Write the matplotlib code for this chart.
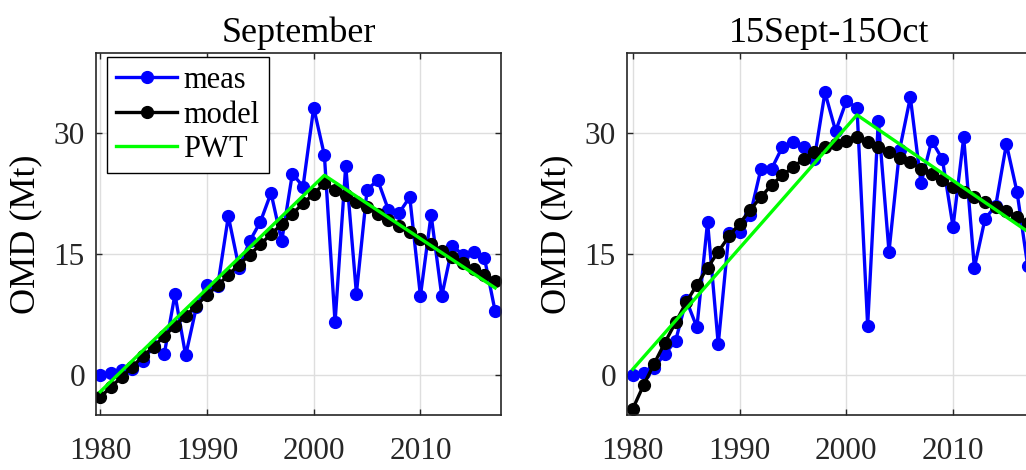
import matplotlib
matplotlib.use("Agg")
import matplotlib.pyplot as plt

plt.rcParams['font.family'] = ['Liberation Serif', 'DejaVu Serif']

years = list(range(1980, 2018))

# September
meas_sep = [0.0, 0.2, 0.6, 0.7, 1.7, 3.6, 2.6, 10.0, 2.4, 8.4, 11.2, 11.0, 19.7, 13.3, 16.6, 19.0,
            22.6, 16.6, 25.0, 23.4, 33.2, 27.3, 6.5, 26.0, 10.1, 23.0, 24.2, 20.5, 20.1, 22.1,
            9.8, 19.9, 9.8, 16.0, 14.9, 15.3, 14.5, 7.9]
model_sep = [-2.8, -1.5, -0.3, 1.0, 2.3, 3.5, 4.8, 6.1, 7.3, 8.6, 9.9, 11.1, 12.4, 13.7, 14.9, 16.2,
             17.5, 18.7, 20.0, 21.3, 22.5, 23.8, 23.0, 22.3, 21.5, 20.8, 20.0, 19.2, 18.5, 17.7,
             16.9, 16.2, 15.4, 14.7, 13.9, 13.1, 12.4, 11.7]

# 15Sept-15Oct
meas_oct = [0.0, 0.2, 0.9, 2.6, 4.2, 9.3, 5.9, 19.0, 3.8, 17.6, 17.8, 19.9, 25.6, 25.6, 28.3, 28.9,
            28.3, 26.8, 35.1, 30.3, 34.0, 33.2, 6.1, 31.6, 15.3, 28.0, 34.5, 23.8, 29.1, 26.8,
            18.4, 29.5, 13.3, 19.4, 21.0, 28.7, 22.7, 13.5]
model_oct = [-4.2, -1.3, 1.4, 4.0, 6.5, 9.0, 11.2, 13.3, 15.3, 17.2, 18.8, 20.5, 22.1, 23.6, 24.8, 25.8,
             26.8, 27.7, 28.3, 28.7, 29.1, 29.5, 28.9, 28.3, 27.7, 27.0, 26.4, 25.6, 25.0, 24.2,
             23.3, 22.7, 22.1, 21.5, 20.9, 20.3, 19.6, 18.9]

# piecewise trend (breakpoint 2001)
pwt_years = [1980, 2001, 2017]
pwt_sep = [-2.1, 24.8, 10.8]
pwt_oct = [0.7, 32.3, 17.8]

fig = plt.figure(figsize=(10.26, 4.70), dpi=100)
ax1 = fig.add_axes([96/1026, 55/470, 405/1026, 362/470])
ax2 = fig.add_axes([627/1026, 55/470, 405/1026, 362/470])

panels = [(ax1, "September", meas_sep, model_sep, pwt_sep, (1979.6, 2017.55)),
          (ax2, "15Sept-15Oct", meas_oct, model_oct, pwt_oct, (1979.45, 2017.4))]

for ax, title, meas, model, pwt, xl in panels:
    ax.plot(years, meas, "-o", color=(0, 0, 1), lw=2.4, markersize=8.5, label="meas")
    ax.plot(years, model, "-o", color="black", lw=2.4, markersize=8.5, label="model")
    ax.plot(pwt_years, pwt, "-", color=(0, 1, 0), lw=2.4, label="PWT")
    ax.set_xlim(*xl)
    ax.set_ylim(-5, 40)
    ax.set_xticks([1980, 1990, 2000, 2010])
    ax.set_yticks([0, 15, 30])
    ax.set_title(title, fontsize=26, pad=8)
    ax.set_ylabel("OMD (Mt)", fontsize=26, labelpad=8)
    ax.grid(True, color="#dedede", lw=1)
    ax.set_axisbelow(True)
    ax.tick_params(direction="in", length=4, width=1, top=True, right=True,
                   labelsize=22.5, colors="#262626")
    ax.tick_params(axis="x", pad=16)
    ax.tick_params(axis="y", pad=8)
    for s in ax.spines.values():
        s.set_color("#262626")
        s.set_linewidth(1.2)

leg = ax1.legend(loc="upper left", bbox_to_anchor=(11/405, 1 - 4/362), borderaxespad=0,
                 fontsize=22, frameon=True, fancybox=False,
                 edgecolor="black", framealpha=1, handlelength=2.0, handletextpad=0.2,
                 borderpad=0.3, labelspacing=0.18)
leg.get_frame().set_linewidth(1.0)

fig.savefig("out.png", dpi=100)
